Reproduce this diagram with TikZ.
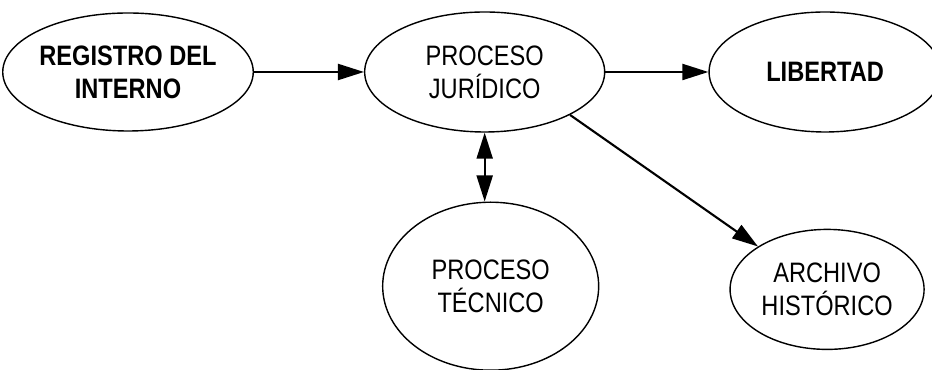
\documentclass[tikz,border=0pt]{standalone}
\usepackage{fontspec}
\setmainfont[FakeStretch=0.84]{Liberation Sans}
\usepackage{tikz}
\usetikzlibrary{positioning, shapes.geometric, arrows.meta}

\begin{document}
\begin{tikzpicture}[line width = 1pt, font = \fontsize{20}{23.5}\selectfont, estado/.style={ellipse, draw, inner sep = 0pt, align = center}, flecha/.style={line width = 1.5pt, -{Triangle[length = 0.65cm, width = 0.4cm]}}]
  \useasboundingbox (0,0) rectangle (23.3,9.25);
  % nodes
  \node [estado, minimum width = 6.0cm, minimum height = 2.95cm, font = \fontsize{20}{23.5}\selectfont\bfseries] (registro) at (3.2,7.45) {REGISTRO DEL\\INTERNO};
  \node [estado, minimum width = 6.0cm, minimum height = 3.0cm][right = 2.75cm of registro] (juridico) {PROCESO\\JURÍDICO};
  \node [estado, minimum width = 5.8cm, minimum height = 3.0cm, font = \fontsize{20}{23.5}\selectfont\bfseries][right = 2.575cm of juridico] (libertad) {LIBERTAD};

  \node [estado, minimum width = 5.4cm, minimum height = 4.2cm][below = 1.72cm of juridico, xshift = 0.15cm] (tecnico) {PROCESO\\TÉCNICO};
  \node [estado, minimum width = 4.85cm, minimum height = 3.0cm][below = 2.4cm of libertad, xshift = 0.05cm] (archivo) {ARCHIVO\\HISTÓRICO};

  % edges
  \draw [flecha] (registro) -- (juridico);
  \draw [flecha] (juridico) -- (libertad);
  \draw [flecha, {Triangle[length = 0.65cm, width = 0.4cm]}-{Triangle[length = 0.65cm, width = 0.4cm]}] (juridico.south) -- (juridico.south |- tecnico.north);
  \draw [flecha] (juridico.south east) -- (archivo.north west);
\end{tikzpicture}
\end{document}
